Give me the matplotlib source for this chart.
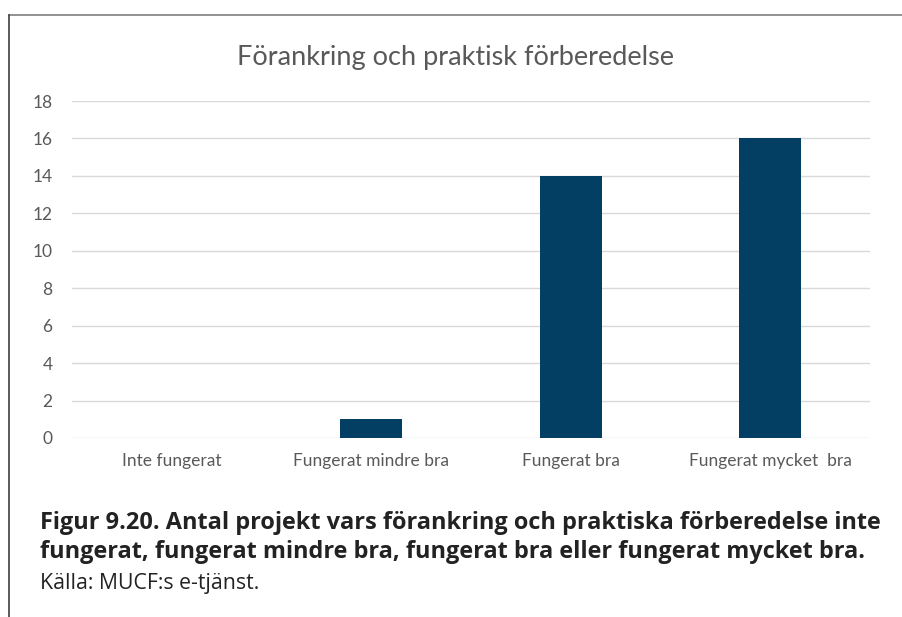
import matplotlib.pyplot as plt
from matplotlib.lines import Line2D

categories = ['Inte fungerat', 'Fungerat mindre bra', 'Fungerat bra', 'Fungerat mycket  bra']
values = [0, 1, 14, 16]
yticks = [0, 2, 4, 6, 8, 10, 12, 14, 16, 18]

title = 'Förankring och praktisk förberedelse'
caption = ['Figur 9.20. Antal projekt vars förankring och praktiska förberedelse inte',
           'fungerat, fungerat mindre bra, fungerat bra eller fungerat mycket bra.']
source = 'Källa: MUCF:s e-tjänst.'

W, H = 903, 617
fig = plt.figure(figsize=(W / 100, H / 100), dpi=100)

# plot area in pixels: x 72..870, y 101..438
ax = fig.add_axes([72 / W, 1 - 438 / H, (870 - 72) / W, (438 - 101) / H])
x = list(range(len(categories)))
ax.bar(x, values, width=0.31, color='#023f62', zorder=3)
ax.set_xlim(-0.5, 3.5)
ax.set_ylim(0, 18)
ax.set_yticks(yticks)
ax.grid(axis='y', color='#d9d9d9', linewidth=1, zorder=0)
for s in ax.spines.values():
    s.set_visible(False)
ax.tick_params(length=0, labelsize=12.5, labelcolor='#595959')
ax.tick_params(axis='y', pad=14)
ax.tick_params(axis='x', pad=11)
ax.set_xticks(x)
ax.set_xticklabels(categories)
for lab in ax.get_xticklabels() + ax.get_yticklabels():
    lab.set_family('Lato')

fig.text(456 / W, 1 - 57 / H, title, ha='center', va='center',
         fontsize=19.5, color='#595959', family='Lato')

# outer frame: top and left edge only
fig.add_artist(Line2D([9.5 / W, 1], [1 - 14.5 / H] * 2, color='#7f7f7f', lw=1.2))
fig.add_artist(Line2D([9.5 / W] * 2, [0, 1 - 14.5 / H], color='#404040', lw=1.2))

fig.text(40 / W, 1 - 523 / H, caption[0], ha='left', va='center',
         fontsize=16.9, fontweight='bold', color='#222222', family='Open Sans')
fig.text(40 / W, 1 - 552 / H, caption[1], ha='left', va='center',
         fontsize=16.9, fontweight='bold', color='#222222', family='Open Sans')
fig.text(40 / W, 1 - 583 / H, source, ha='left', va='center', fontsize=15.3,
         color='#222222', family='Open Sans')

fig.savefig('out.png', dpi=100)
